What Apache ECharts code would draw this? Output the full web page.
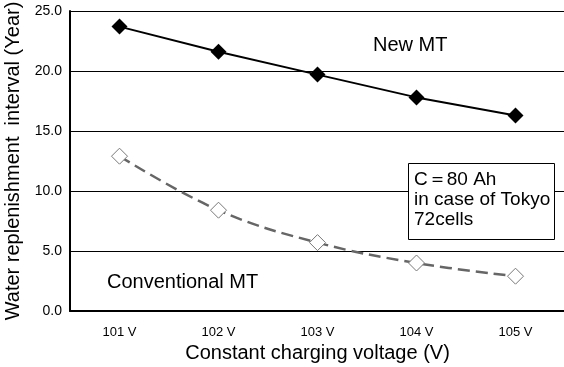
<!DOCTYPE html>
<html><head><meta charset="utf-8">
<script src="https://cdn.jsdelivr.net/npm/echarts@6/dist/echarts.min.js"></script>
<style>html,body{margin:0;padding:0;background:#fff}#c{width:564px;height:367px}</style>
</head><body><div id="c"></div>
<script>
const categories = ['101 V', '102 V', '103 V', '104 V', '105 V'];
const newMT = [23.7, 21.6, 19.7, 17.8, 16.3];
const conventionalMT = [12.9, 8.4, 5.7, 4.0, 2.9];
const yTicks = [0, 5, 10, 15, 20, 25];

const F = 'Liberation Sans, Arial, sans-serif';
const chart = echarts.init(document.getElementById('c'));
chart.setOption({
  animation: false,
  grid: {left: 70, right: -1, top: 11, bottom: 56, containLabel: false, outerBoundsMode: 'none'},
  xAxis: {
    type: 'category', data: categories, boundaryGap: true,
    name: 'Constant charging voltage (V)', nameLocation: 'middle', nameGap: 32,
    nameTextStyle: {fontFamily: F, fontSize: 20, color: '#000'},
    axisLine: {lineStyle: {color: '#000', width: 2}},
    axisTick: {inside: true, length: 5, lineStyle: {color: '#000', width: 1}},
    axisLabel: {fontFamily: F, fontSize: 13, color: '#000', margin: 15}
  },
  yAxis: {
    type: 'value', min: yTicks[0], max: yTicks[yTicks.length - 1], interval: 5,
    name: 'Water replenishment  interval (Year)', nameLocation: 'middle', nameGap: 45,
    nameTextStyle: {fontFamily: F, fontSize: 20, color: '#000'},
    axisLine: {show: true, lineStyle: {color: '#000', width: 2}},
    axisTick: {show: false},
    splitLine: {lineStyle: {color: '#000', width: 1}},
    axisLabel: {fontFamily: F, fontSize: 14, color: '#000', margin: 8,
      formatter: v => v.toFixed(1)}
  },
  series: [
    {
      name: 'New MT', type: 'line', data: newMT,
      symbol: 'diamond', symbolSize: 16,
      itemStyle: {color: '#000'},
      lineStyle: {color: '#000', width: 2}, z: 3
    },
    {
      name: 'Conventional MT', type: 'line', data: conventionalMT, smooth: 0.4,
      symbol: 'diamond', symbolSize: 16,
      itemStyle: {color: '#fff', borderColor: '#777', borderWidth: 1},
      lineStyle: {color: '#666', width: 2.5, type: [12, 6]}
    }
  ],
  graphic: [
    {type: 'text', left: 373, top: 35, style: {text: 'New MT', font: '20px ' + F, fill: '#000'}},
    {type: 'text', left: 107, top: 272, style: {text: 'Conventional MT', font: '20px ' + F, fill: '#000'}},
    {type: 'rect', shape: {x: 408.5, y: 163.5, width: 146, height: 76},
      style: {fill: '#fff', stroke: '#000', lineWidth: 1}, z: 10},
    {type: 'text', left: 414, top: 170, z: 11,
      style: {text: 'C\uFF1D80 Ah\nin case of Tokyo\n72cells', font: '19px ' + F, fill: '#000', lineHeight: 20}}
  ]
});
</script></body></html>
